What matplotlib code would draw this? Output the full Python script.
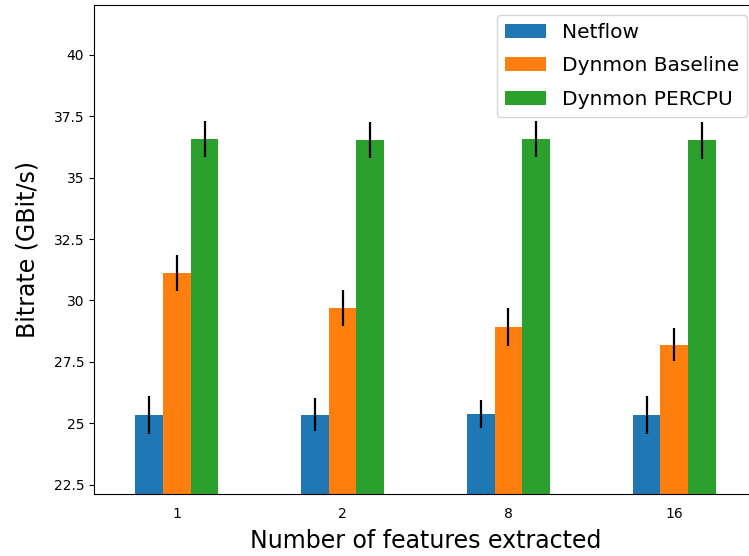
import numpy as np
import matplotlib
matplotlib.use("Agg")
import matplotlib.pyplot as plt

# features extracted per flow
features = ["1", "2", "8", "16"]

# mean bitrate (GBit/s) and std deviation for each configuration
netflow = [25.33, 25.34, 25.38, 25.34]
netflow_err = [0.76, 0.67, 0.56, 0.78]
baseline = [31.13, 29.69, 28.93, 28.19]
baseline_err = [0.73, 0.73, 0.78, 0.67]
percpu = [36.58, 36.53, 36.58, 36.53]
percpu_err = [0.73, 0.73, 0.73, 0.75]

yticks = [22.5, 25, 27.5, 30, 32.5, 35, 37.5, 40]
ytick_labels = ["22.5", "25", "27.5", "30", "32.5", "35", "37.5", "40"]

fig = plt.figure(figsize=(7.49, 5.56), dpi=100)
ax = fig.add_axes([94 / 749, 62 / 556, 663 / 749, 489 / 556])

x = np.arange(len(features))
width = 1 / 6

ax.bar(x - width, netflow, width, yerr=netflow_err, label="Netflow",
       color="tab:blue", error_kw=dict(ecolor="black", elinewidth=1.6))
ax.bar(x, baseline, width, yerr=baseline_err, label="Dynmon Baseline",
       color="tab:orange", error_kw=dict(ecolor="black", elinewidth=1.6))
ax.bar(x + width, percpu, width, yerr=percpu_err, label="Dynmon PERCPU",
       color="tab:green", error_kw=dict(ecolor="black", elinewidth=1.6))

ax.set_xticks(x)
ax.set_xticklabels(features)
ax.tick_params(axis="x", length=0, pad=9)
ax.set_yticks(yticks)
ax.set_yticklabels(ytick_labels)
ax.set_xlim(-0.5, 3.5)
ax.set_ylim(22.12, 42.03)

ax.set_xlabel("Number of features extracted", fontsize=17, labelpad=6)
ax.set_ylabel("Bitrate (GBit/s)", fontsize=17, labelpad=10)
ax.legend(loc="upper right", fontsize=14.5, labelspacing=0.71)

fig.savefig("out.png", dpi=100)
